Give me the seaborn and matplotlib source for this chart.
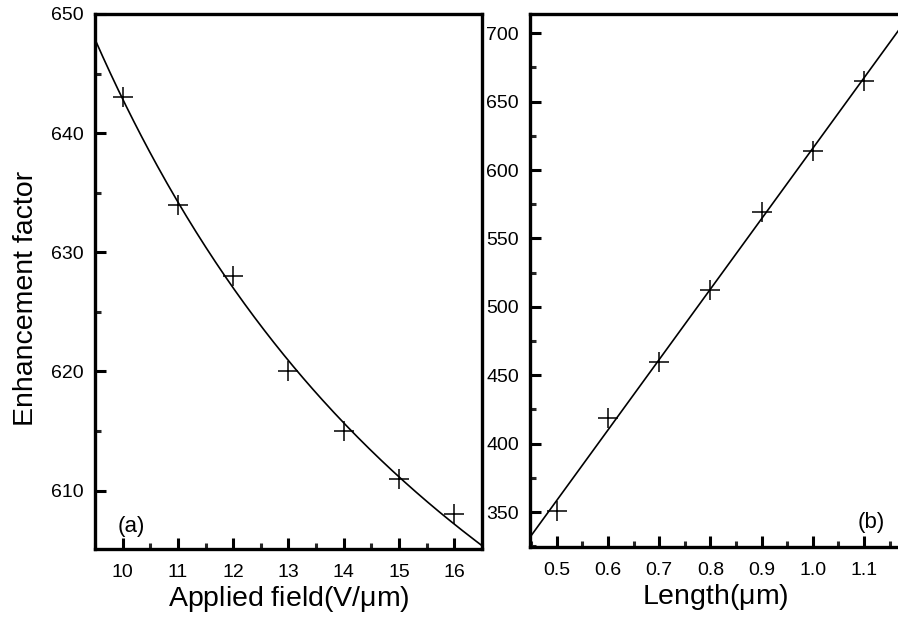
import numpy as np
import pandas as pd
import matplotlib
matplotlib.use("Agg")
import matplotlib.pyplot as plt
import seaborn as sns
from matplotlib.ticker import MultipleLocator, FormatStrFormatter

# ---- data ----
field = [10, 11, 12, 13, 14, 15, 16]
enh_field = [643, 634, 628, 620, 615, 611, 608]

length = [0.5, 0.6, 0.7, 0.8, 0.9, 1.0, 1.1]
enh_length = [351, 419, 459.5, 512.5, 569.5, 614, 665]

left_ticks = [610, 620, 630, 640, 650]
right_ticks = [350, 400, 450, 500, 550, 600, 650, 700]

sns.set_theme(style="ticks")
plt.rcParams['font.family'] = ['Liberation Sans', 'DejaVu Sans']
plt.rcParams['mathtext.fontset'] = 'custom'
plt.rcParams['mathtext.rm'] = 'Liberation Sans'
plt.rcParams['mathtext.it'] = 'Liberation Sans'
plt.rcParams['text.color'] = 'black'
plt.rcParams['axes.labelcolor'] = 'black'

fig = plt.figure(figsize=(8.98, 6.18), dpi=100)
ax1 = fig.add_axes([0.1058, 0.1117, 0.4309, 0.8657])
ax2 = fig.add_axes([0.5902, 0.1149, 0.4120, 0.8624])

# fitted curves derived from the data (y = a + b/x, and linear)
xf1 = np.linspace(9.5, 16.5, 200)
c1 = np.polyfit(1.0 / np.asarray(field, float), enh_field, 1)
fit1 = pd.DataFrame({"x": xf1, "y": np.polyval(c1, 1.0 / xf1)})
xf2 = np.linspace(0.448, 1.17, 50)
c2 = np.polyfit(length, enh_length, 1)
fit2 = pd.DataFrame({"x": xf2, "y": np.polyval(c2, xf2)})

df1 = pd.DataFrame({"x": field, "y": enh_field})
df2 = pd.DataFrame({"x": length, "y": enh_length})

for ax, df, fit in [(ax1, df1, fit1), (ax2, df2, fit2)]:
    sns.lineplot(data=fit, x="x", y="y", ax=ax, color="black", linewidth=1.2, sort=False)
    sns.scatterplot(data=df, x="x", y="y", ax=ax, marker="+", s=200,
                    color="black", linewidth=1.1, zorder=5)
    for s in ax.spines.values():
        s.set_linewidth(2.4)
        s.set_color("black")
    ax.tick_params(which="major", direction="in", length=8, width=2.2,
                   labelsize=14, colors="black")
    ax.tick_params(which="minor", direction="in", length=4, width=2.2)
    ax.tick_params(axis="x", which="major", pad=11)
    ax.tick_params(axis="y", which="major", pad=8)
    ax.tick_params(top=False, right=False)
    ax.set_facecolor("white")

ax1.set_xlim(9.5, 16.5)
ax1.set_ylim(605.1, 650)
ax1.set_xticks(field)
ax1.set_yticks(left_ticks)
ax1.xaxis.set_minor_locator(MultipleLocator(0.5))
ax1.yaxis.set_minor_locator(MultipleLocator(5))
ax1.set_xlabel("Applied field(V/$\\mu$m)", fontsize=20.5, labelpad=2)
ax1.set_ylabel("Enhancement factor", fontsize=20.5)
ax1.yaxis.set_label_coords(-0.145, 0.469)
ax1.text(10.16, 606.5, "(a)", fontsize=16, ha="center", va="baseline")

ax2.set_xlim(0.448, 1.170)
ax2.set_ylim(324.5, 714)
ax2.set_xticks(length)
ax2.xaxis.set_major_formatter(FormatStrFormatter("%.1f"))
ax2.set_yticks(right_ticks)
ax2.xaxis.set_minor_locator(MultipleLocator(0.05))
ax2.yaxis.set_minor_locator(MultipleLocator(25))
ax2.set_xlabel("Length($\\mu$m)", fontsize=20.5, labelpad=2)
ax2.set_ylabel("")
ax2.text(1.114, 338.3, "(b)", fontsize=16, ha="center", va="baseline")

fig.savefig("out.png", dpi=100, facecolor="white")
